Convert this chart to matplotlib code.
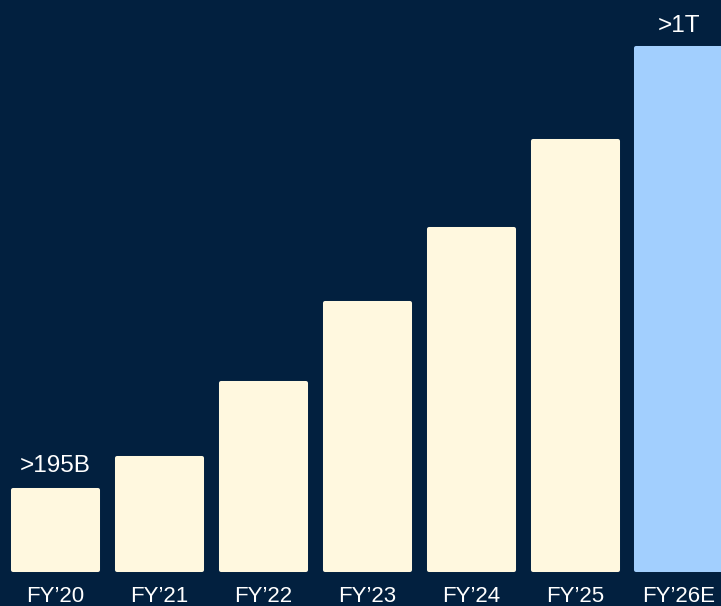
import matplotlib.pyplot as plt

# data (bar heights, FY'26E = 1000B)
years = ["FY\u201920", "FY\u201921", "FY\u201922", "FY\u201923", "FY\u201924", "FY\u201925", "FY\u201926E"]
values = [153, 215, 358, 511, 653, 822, 1000]
first_label = ">195B"
last_label = ">1T"

bg = '#02203f'
cream = '#fff8df'
blue = '#a2cffe'
colors = [cream] * 6 + [blue]

plt.rcParams['font.family'] = ['Liberation Sans', 'DejaVu Sans']

fig = plt.figure(figsize=(7.21, 6.06), dpi=100, facecolor=bg)
ax = fig.add_axes([0, 36 / 606, 1, 570 / 606])
ax.set_facecolor(bg)

x = list(range(len(years)))
# edge in same colour with round joins gives the soft corners
ax.bar(x, values, width=0.818, color=colors, edgecolor=colors,
       linewidth=2.9, joinstyle='round', clip_on=False)

ax.set_xlim(-0.5337, 6.405)
ax.set_ylim(0, 1092)

ax.annotate(first_label, (x[0], values[0]), xytext=(0, 13), textcoords='offset points',
            ha='center', va='baseline', color='white', fontsize=17.5)
ax.annotate(last_label, (x[-1], values[-1]), xytext=(0, 11.5), textcoords='offset points',
            ha='center', va='baseline', color='white', fontsize=17.5)

ax.set_xticks(x)
ax.set_xticklabels(years, color='white', fontsize=16)
ax.tick_params(axis='x', length=0, pad=11.5)
ax.set_yticks([])
for s in ax.spines.values():
    s.set_visible(False)

fig.savefig('out.png', dpi=100, facecolor=bg)
